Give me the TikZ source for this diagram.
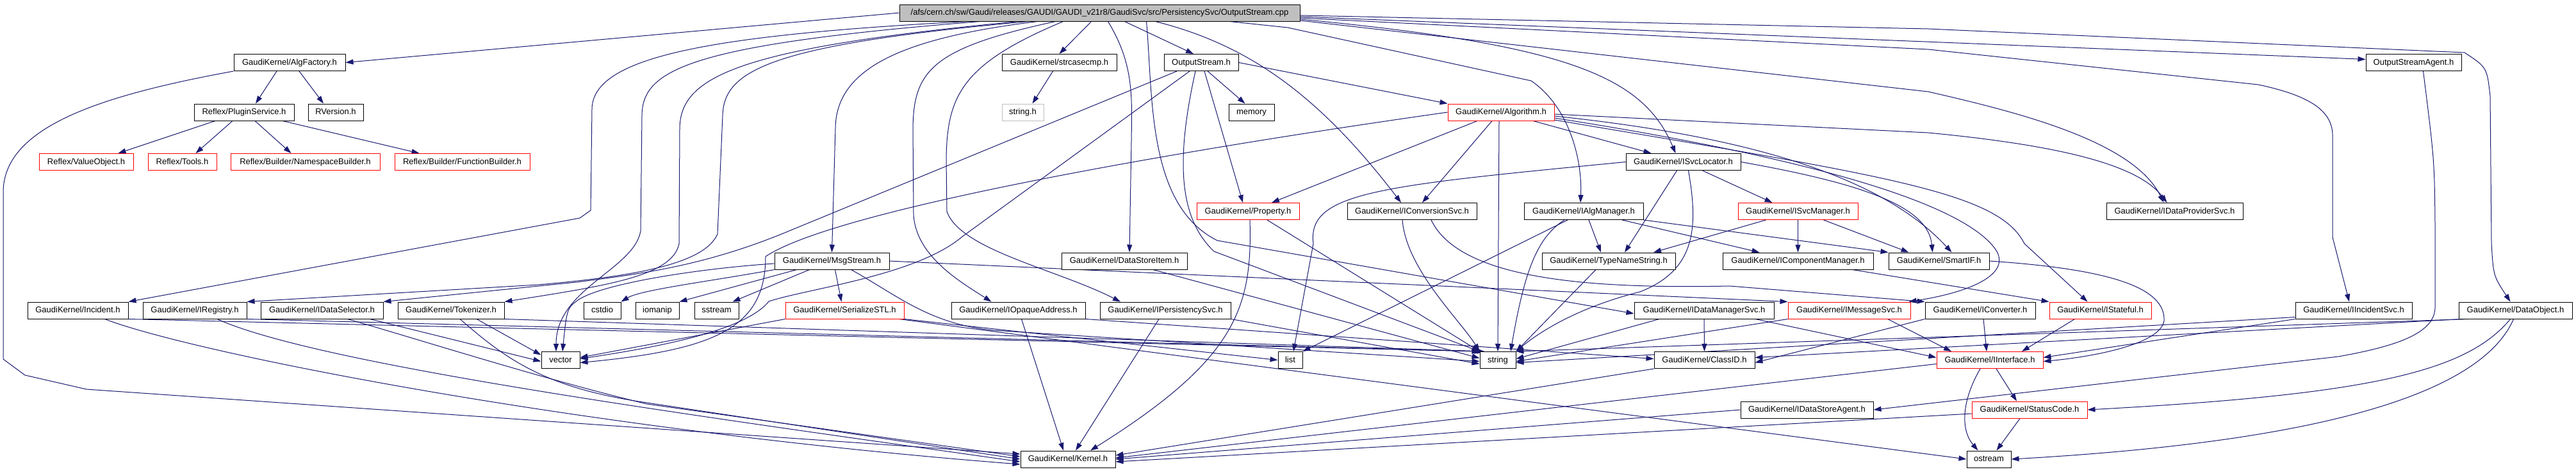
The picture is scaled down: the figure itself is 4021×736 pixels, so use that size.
\documentclass[tikz,border=0pt]{standalone}
\usepackage{fontspec}
\setmainfont{Liberation Sans}
\usetikzlibrary{arrows.meta}
\pgfdeclarelayer{bottom}
\pgfdeclarelayer{edges}
\pgfsetlayers{bottom,edges,main}
\definecolor{edgeblue}{HTML}{191970}
\definecolor{redb}{HTML}{FF0000}
\definecolor{grayf}{HTML}{BFBFBF}
\tikzset{
 nb/.style={draw=black, line width=1pt, fill=white, inner sep=0pt, minimum height=26pt,
   font=\fontsize{13pt}{15pt}\selectfont, text height=9.5pt, text depth=2.5pt},
 rb/.style={nb, draw=redb},
 gb/.style={nb, draw=grayf},
 mb/.style={nb, fill=grayf},
 dep/.style={draw=edgeblue, line width=1pt, -{Triangle[length=12pt,width=8pt]}},
}
\newcommand\gnode[6]{\node[#1,minimum width=#5pt] (#2) at (#3,#4) {#6};}
\begin{document}
\begin{tikzpicture}[x=1pt,y=-1pt]
\useasboundingbox (0,0) rectangle (4021,736);
\begin{pgfonlayer}{bottom}
\fill[white] (0,0) rectangle (4021,736);
\end{pgfonlayer}
% row 0
\gnode{mb}{main}{1716.5}{20}{625}{/afs/cern.ch/sw/Gaudi/releases/GAUDI/GAUDI\_v21r8/GaudiSvc/src/PersistencySvc/OutputStream.cpp}
% row 1
\gnode{nb}{algf}{452}{97.5}{174}{GaudiKernel/AlgFactory.h}
\gnode{nb}{strc}{1653.5}{97.5}{179}{GaudiKernel/strcasecmp.h}
\gnode{nb}{ostr}{1875}{97.5}{116}{OutputStream.h}
\gnode{nb}{osa}{3767.5}{97.5}{149}{OutputStreamAgent.h}
% row 2
\gnode{nb}{plug}{381}{175}{156}{Reflex/PluginService.h}
\gnode{nb}{rver}{524}{175}{86}{RVersion.h}
\gnode{gb}{strh}{1596.5}{175}{65}{string.h}
\gnode{nb}{mem}{1953.5}{175}{71}{memory}
\gnode{rb}{alg}{2343}{175}{166}{GaudiKernel/Algorithm.h}
% row 3
\gnode{rb}{valo}{134.5}{252.5}{147}{Reflex/ValueObject.h}
\gnode{rb}{tools}{284.5}{252.5}{107}{Reflex/Tools.h}
\gnode{rb}{nsb}{476.5}{252.5}{233}{Reflex/Builder/NamespaceBuilder.h}
\gnode{rb}{fb}{721.5}{252.5}{211}{Reflex/Builder/FunctionBuilder.h}
\gnode{nb}{svcloc}{2627.5}{252.5}{179}{GaudiKernel/ISvcLocator.h}
% row 4
\gnode{rb}{prop}{1948}{329.5}{160}{GaudiKernel/Property.h}
\gnode{nb}{convsvc}{2204}{329.5}{202}{GaudiKernel/IConversionSvc.h}
\gnode{nb}{algmgr}{2472}{329.5}{186}{GaudiKernel/IAlgManager.h}
\gnode{rb}{svcmgr}{2806.5}{329.5}{187}{GaudiKernel/ISvcManager.h}
\gnode{nb}{dps}{3394.5}{329.5}{213}{GaudiKernel/IDataProviderSvc.h}
% row 5
\gnode{nb}{msgs}{1298.5}{407}{179}{GaudiKernel/MsgStream.h}
\gnode{nb}{dsi}{1755}{407}{196}{GaudiKernel/DataStoreItem.h}
\gnode{nb}{tns}{2511}{407}{208}{GaudiKernel/TypeNameString.h}
\gnode{nb}{icm}{2806.5}{407}{235}{GaudiKernel/IComponentManager.h}
\gnode{nb}{smart}{3026.5}{407}{157}{GaudiKernel/SmartIF.h}
% row 6
\gnode{nb}{inc}{121.5}{484}{157}{GaudiKernel/Incident.h}
\gnode{nb}{ireg}{304}{484}{162}{GaudiKernel/IRegistry.h}
\gnode{nb}{idsel}{502.5}{484}{191}{GaudiKernel/IDataSelector.h}
\gnode{nb}{tok}{704}{484}{166}{GaudiKernel/Tokenizer.h}
\gnode{nb}{cstdio}{940}{484}{58}{cstdio}
\gnode{nb}{iomanip}{1026}{484}{68}{iomanip}
\gnode{nb}{sstream}{1118.5}{484}{69}{sstream}
\gnode{rb}{ser}{1318.5}{484}{185}{GaudiKernel/SerializeSTL.h}
\gnode{nb}{opaq}{1589.5}{484}{209}{GaudiKernel/IOpaqueAddress.h}
\gnode{nb}{pers}{1819}{484}{204}{GaudiKernel/IPersistencySvc.h}
\gnode{nb}{dms}{2660}{484}{218}{GaudiKernel/IDataManagerSvc.h}
\gnode{rb}{imsg}{2886.5}{484}{191}{GaudiKernel/IMessageSvc.h}
\gnode{nb}{iconv}{3091}{484}{172}{GaudiKernel/IConverter.h}
\gnode{rb}{istate}{3278.5}{484}{159}{GaudiKernel/IStateful.h}
\gnode{nb}{iinc}{3674}{484}{182}{GaudiKernel/IIncidentSvc.h}
\gnode{nb}{dobj}{3926.5}{484}{177}{GaudiKernel/DataObject.h}
% row 7
\gnode{nb}{vec}{875}{561.5}{60}{vector}
\gnode{nb}{list}{2014}{561.5}{38}{list}
\gnode{nb}{str}{2338}{561.5}{56}{string}
\gnode{nb}{clid}{2660.5}{561.5}{157}{GaudiKernel/ClassID.h}
\gnode{rb}{iif}{3106}{561.5}{166}{GaudiKernel/IInterface.h}
% row 8
\gnode{nb}{dsa}{2820.5}{639}{207}{GaudiKernel/IDataStoreAgent.h}
\gnode{rb}{sc}{3168}{639}{180}{GaudiKernel/StatusCode.h}
% row 9
\gnode{nb}{kern}{1667}{716}{148}{GaudiKernel/Kernel.h}
\gnode{nb}{ostrm}{3104.5}{716}{69}{ostream}

\begin{pgfonlayer}{edges}
% ---- from main
\draw[dep] (main.west) -- (algf.east);
\draw[dep] ([xshift=106pt]main.south west) .. controls (1100,55) and (925,90) .. (924,170) -- (922,328) -- (905,340) -- (inc.north east);
\draw[dep] ([xshift=126pt]main.south west) .. controls (1070,70) and (1003,110) .. (1002,180) -- (1000,360) .. controls (990,420) and (868,450) .. ([xshift=-7pt]vec.north);
\draw[dep] ([xshift=201pt]main.south west) .. controls (1200,70) and (1130,110) .. (1128,180) -- (1120,365) .. controls (1100,410) and (1000,430) .. (840,444) -- (ireg.north east);
\draw[dep] ([xshift=186pt]main.south west) .. controls (1150,75) and (1062,120) .. (1061,200) -- (1060,380) .. controls (1050,430) and (950,445) .. (tok.north east);
\draw[dep] ([xshift=216pt]main.south west) .. controls (1400,60) and (1305,110) .. (1304,200) -- (msgs.north);
\draw[dep] ([xshift=244pt]main.south west) .. controls (1455,75) and (1426,110) .. (1425,200) -- (1426,335) .. controls (1430,400) and (1500,440) .. ([xshift=-42pt]opaq.north);
\draw[dep] ([xshift=256pt]main.south west) .. controls (1500,100) and (1478,150) .. (1477,250) -- (1478,330) .. controls (1500,390) and (1650,420) .. ([xshift=-70pt]pers.north);
\draw[dep] ([xshift=300pt]main.south west) -- (strc.north);
\draw[dep] ([xshift=326pt]main.south west) .. controls (1770,100) and (1767,150) .. (1766,220) -- ([xshift=8pt]dsi.north);
\draw[dep] ([xshift=352pt]main.south west) -- ([xshift=-12pt]ostr.north);
\draw[dep] ([xshift=386pt]main.south west) .. controls (1800,150) and (1790,320) .. (1900,375) -- ([yshift=-5pt]dms.west);
\draw[dep] ([xshift=400pt]main.south west) .. controls (1950,70) and (2060,150) .. ([xshift=-17pt]convsvc.north);
\draw[dep] ([xshift=516pt]main.south west) -- (2010,43) -- (2390,126) .. controls (2450,167) and (2470,250) .. ([xshift=-5pt]algmgr.north);
\draw[dep] ([yshift=-10pt]main.east) .. controls (2450,70) and (2565,120) .. ([xshift=-12pt]svcloc.north);
\draw[dep] ([yshift=-12pt]main.east) -- (3010,143) .. controls (3150,175) and (3330,220) .. ([xshift=-17pt]dps.north);
\draw[dep] ([yshift=-6pt]main.east) -- ([yshift=5pt]osa.west);
\draw[dep] ([yshift=-4pt]main.east) -- (3010,45) -- (3847,82) .. controls (3882,105) .. (3887,150) -- (3889,380) .. controls (3892,430) .. ([xshift=-8pt]dobj.north);
\draw[dep] ([yshift=-8pt]main.east) -- (3010,77) -- (3525,132) .. controls (3600,148) and (3640,170) .. (3641,210) -- (3641,370) -- ([xshift=-7pt]iinc.north);
% ---- AlgFactory / Reflex
\draw[dep] (algf.south west) .. controls (150,150) and (5,200) .. (5,300) -- (5,560) -- (39,585) -- (135,607) -- ([yshift=8pt]kern.west);
\draw[dep] ([xshift=-20pt]algf.south) -- ([xshift=18pt]plug.north);
\draw[dep] ([xshift=15pt]algf.south) -- ([xshift=-19pt]rver.north);
\draw[dep] ([xshift=-45pt]plug.south) -- ([xshift=50pt]valo.north);
\draw[dep] ([xshift=-18pt]plug.south) -- ([xshift=21pt]tools.north);
\draw[dep] ([xshift=17pt]plug.south) -- ([xshift=-22pt]nsb.north);
\draw[dep] ([xshift=60pt]plug.south) -- ([xshift=-67pt]fb.north);
\draw[dep] ([xshift=-10pt]strc.south) -- ([xshift=15pt]strh.north);
% ---- OutputStream.h
\draw[dep] (ostr.east) -- (alg.north west);
\draw[dep] ([xshift=10pt]ostr.south) -- ([xshift=-10pt]mem.north);
\draw[dep] ([xshift=5pt]ostr.south) -- ([xshift=-8pt]prop.north);
\draw[dep] ([xshift=-38pt]ostr.south) -- (1232,360) .. controls (1100,415) and (1000,427) .. (900,440) -- (idsel.north east);
\draw[dep] ([xshift=-18pt]ostr.south) -- (1502,369) .. controls (1430,430) and (1260,450) .. (1200,470) .. controls (1160,520) and (1000,545) .. ([yshift=2pt]vec.east);
\draw[dep] ([xshift=-9pt]ostr.south) .. controls (1835,250) and (1840,340) .. (1895,392) -- (str.north west);
% ---- Algorithm.h
\draw[dep] ([xshift=-37pt]alg.south) -- ([xshift=37pt]prop.north);
\draw[dep] ([xshift=-14pt]alg.south) -- ([xshift=16pt]convsvc.north);
\draw[dep] ([xshift=-3pt]alg.south) -- (str.north);
\draw[dep] ([xshift=50pt]alg.south) -- ([xshift=-50pt]svcloc.north);
\draw[dep] (alg.west) .. controls (1800,240) and (1300,330) .. (1195,400) .. controls (1195,510) and (1120,545) .. ([yshift=-4pt]vec.east);
\draw[dep] ([yshift=-3pt]alg.east) -- (3010,207) .. controls (3230,228) and (3340,260) .. ([xshift=-12pt]dps.north);
\draw[dep] ([yshift=-6pt]alg.east) .. controls (2800,220) and (2960,300) .. ([xshift=20pt]smart.north);
\draw[dep] ([yshift=-9pt]alg.east) .. controls (2850,250) and (3060,320) .. (3112,385) .. controls (3145,425) and (3080,455) .. ([xshift=-3pt]imsg.north east);
\draw[dep] ([yshift=-12pt]alg.east) .. controls (2950,275) and (3120,300) .. (3160,380) -- ([xshift=-20pt]istate.north);
% ---- ISvcLocator.h
\draw[dep] (svcloc.west) .. controls (2150,290) and (2040,300) .. (2050,380) -- ([xshift=5pt]list.north);
\draw[dep] ([xshift=-10pt]svcloc.south) -- ([xshift=25pt]tns.north);
\draw[dep] ([xshift=8pt]svcloc.south) .. controls (2650,350) and (2650,420) .. (2560,455) .. controls (2460,480) and (2400,520) .. (str.north east);
\draw[dep] ([xshift=30pt]svcloc.south) -- ([xshift=-40pt]svcmgr.north);
\draw[dep] (svcloc.east) .. controls (2900,285) and (3010,320) .. ([xshift=-10pt]smart.north);
% ---- IAlgManager.h
\draw[dep] ([xshift=8pt]algmgr.south) -- ([xshift=-12pt]tns.north);
\draw[dep] ([xshift=60pt]algmgr.south) -- ([xshift=-60pt]icm.north);
\draw[dep] (algmgr.south east) -- (smart.north west);
\draw[dep] ([xshift=-30pt]algmgr.south) .. controls (2400,370) and (2380,420) .. ([xshift=20pt]str.north);
\draw[dep] ([xshift=-25pt]algmgr.south) -- (list.north east);
% ---- ISvcManager.h
\draw[dep] (svcmgr.south) -- (icm.north);
\draw[dep] ([xshift=-50pt]svcmgr.south) -- ([xshift=70pt]tns.north);
\draw[dep] ([xshift=40pt]svcmgr.south) -- ([xshift=-47pt]smart.north);
% ---- IConversionSvc.h
\draw[dep] ([xshift=30pt]convsvc.south) .. controls (2280,440) and (2500,450) .. (2700,446) -- (iconv.north west);
\draw[dep] ([xshift=-15pt]convsvc.south) .. controls (2195,420) and (2280,500) .. (str.north west);
% ---- Property.h
\draw[dep] ([xshift=3pt]prop.south) .. controls (1955,480) and (1930,560) .. ([xshift=35pt]kern.north);
\draw[dep] ([xshift=30pt]prop.south) -- (str.north west);
% ---- row 5
\draw[dep] ([xshift=45pt]dsi.south) -- ([yshift=3pt]str.west);
\draw[dep] ([xshift=-20pt]tns.south) -- (str.north east);
\draw[dep] ([xshift=85pt]icm.south) -- (istate.north west);
\draw[dep] (smart.east) .. controls (3300,420) and (3380,450) .. (3378,500) .. controls (3372,540) and (3250,558) .. ([yshift=-2pt]iif.east);
\draw[dep] (msgs.south west) .. controls (1100,440) and (1000,452) .. (cstdio.north east);
\draw[dep] ([xshift=-55pt]msgs.south) -- (iomanip.north east);
\draw[dep] ([xshift=-35pt]msgs.south) -- ([xshift=25pt]sstream.north);
\draw[dep] ([xshift=5pt]msgs.south) -- ([xshift=-5pt]ser.north);
\draw[dep] ([yshift=-4pt]msgs.west) .. controls (1100,418) and (950,440) .. (905,466) .. controls (885,480) .. ([xshift=3pt]vec.north);
\draw[dep] ([xshift=30pt]msgs.south) .. controls (1400,460) and (1450,505) .. (1550,515) -- ([yshift=-2pt]str.west);
\draw[dep] (msgs.east) -- (imsg.north west);
% ---- row 6
\draw[dep] (dms.south) -- (clid.north);
\draw[dep] ([xshift=-70pt]dms.south) -- ([yshift=2pt]str.east);
\draw[dep] ([xshift=80pt]dms.south) -- ([yshift=4pt]iif.west);
\draw[dep] ([xshift=60pt]imsg.south) -- ([xshift=-60pt]iif.north);
\draw[dep] (imsg.south west) -- ([yshift=-2pt]str.east);
\draw[dep] ([xshift=5pt]iconv.south) -- ([xshift=-5pt]iif.north);
\draw[dep] (iconv.south west) -- ([yshift=-4pt]clid.east);
\draw[dep] ([xshift=-40pt]istate.south) -- ([xshift=50pt]iif.north);
\draw[dep] (iinc.south west) -- ([yshift=4pt]iif.east);
\draw[dep] ([yshift=3pt]iinc.south west) -- ([yshift=-4pt]str.east);
\draw[dep] ([xshift=5pt]dobj.south west) -- ([yshift=4pt]clid.east);
\draw[dep] ([xshift=15pt]dobj.south west) -- (str.north east);
\draw[dep] ([xshift=-8pt]dobj.south) .. controls (3850,580) and (3700,615) .. (sc.east);
\draw[dep] ([xshift=-3pt]dobj.south) .. controls (3870,620) and (3600,690) .. (ostrm.east);
\draw[dep] (ser.south west) -- ([yshift=4pt]vec.east);
\draw[dep] (ser.south east) -- (list.west);
\draw[dep] ([xshift=-8pt]ser.south east) -- (ostrm.west);
\draw[dep] ([xshift=5pt]opaq.south) -- ([xshift=-7pt]kern.north);
\draw[dep] (opaq.south east) -- ([yshift=2pt]clid.west);
\draw[dep] ([xshift=-10pt]pers.south) -- ([xshift=12pt]kern.north);
\draw[dep] (pers.south east) -- ([yshift=-6pt]str.west);
\draw[dep] ([xshift=42pt]inc.south) .. controls (300,550) and (900,670) .. ([yshift=-8pt]kern.west);
\draw[dep] (inc.south east) -- (str.north west);
\draw[dep] ([xshift=35pt]ireg.south) .. controls (500,570) and (1100,650) .. ([yshift=-4pt]kern.west);
\draw[dep] (ireg.south east) -- ([xshift=4pt]str.north west);
\draw[dep] ([xshift=75pt]idsel.south) -- ([yshift=-2pt]vec.west);
\draw[dep] ([xshift=40pt]idsel.south) .. controls (640,525) and (850,592) .. (1010,630) -- ([yshift=4pt]kern.west);
\draw[dep] ([xshift=40pt]tok.south) -- ([yshift=8pt]vec.west);
\draw[dep] (tok.south east) -- ([xshift=8pt]str.north west);
\draw[dep] ([xshift=14pt]tok.south) .. controls (790,560) and (850,605) .. (1010,628) -- (kern.west);
% ---- lower rows
\draw[dep] ([xshift=10pt]iif.south) -- ([xshift=-20pt]sc.north);
\draw[dep] ([xshift=-15pt]iif.south) .. controls (3062,625) and (3060,670) .. ([xshift=-17pt]ostrm.north);
\draw[dep] ([yshift=-6pt]iif.west) -- ([yshift=2pt]kern.east);
\draw[dep] ([xshift=-15pt]sc.south) -- ([xshift=12pt]ostrm.north);
\draw[dep] ([yshift=-6pt]sc.west) -- ([yshift=-4pt]kern.east);
\draw[dep] (dsa.west) -- (kern.east);
\draw[dep] (clid.south west) -- ([yshift=6pt]kern.east);
\draw[dep] ([xshift=15pt]osa.south) .. controls (3800,250) .. (3801,350) -- (3801,480) .. controls (3800,520) and (3740,540) .. (3650,556) -- (dsa.east);
\end{pgfonlayer}
\end{tikzpicture}
\end{document}
